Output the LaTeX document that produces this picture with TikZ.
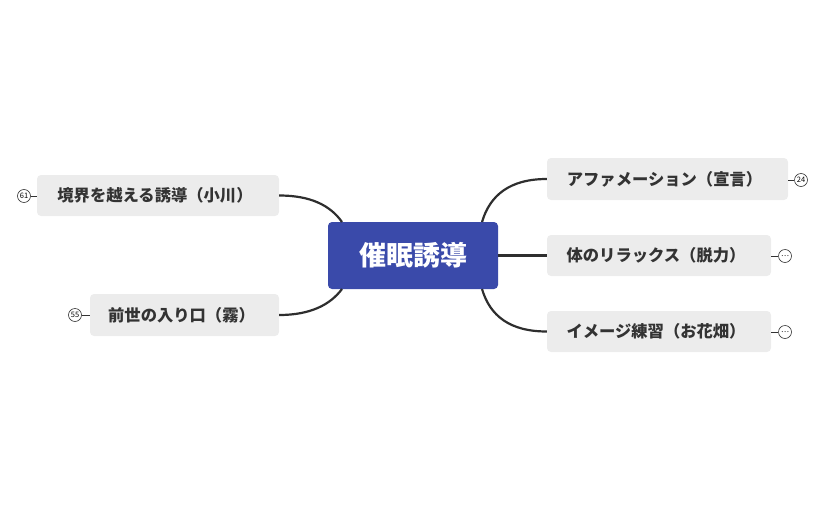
\documentclass[tikz,border=0pt]{standalone}
\usepackage{fontspec}
\setmainfont{Noto Sans CJK JP}
\begin{document}
\begin{tikzpicture}[x=1pt,y=-1pt,
  sub/.style={fill=gray!15,rounded corners=4pt,inner sep=0pt,font=\fontsize{16.3}{16}\selectfont\bfseries,text=black!80},
  conn/.style={line width=2.2pt,draw=black!82},
  badge/.style={circle,draw=black!80,line width=0.6pt,minimum size=13pt,inner sep=0pt,fill=white,font=\fontsize{7.5}{7}\selectfont},
  tick/.style={line width=1pt,draw=black!80}]
\useasboundingbox (0,0) rectangle (826,511);
\node[fill={rgb,255:red,58;green,74;blue,170},rounded corners=4pt,minimum width=170pt,minimum height=67pt,text=white,font=\fontsize{27}{27}\selectfont\bfseries] (c) at (413,255.5) {催眠誘導};
\node[sub,minimum width=241pt,minimum height=42pt] (a) at (667.5,179) {\hspace*{-6pt}アファメーション（宣言）};
\node[sub,minimum width=224pt,minimum height=41pt] (b) at (659,255.5) {\hspace*{-6pt}体のリラックス（脱力）};
\node[sub,minimum width=224pt,minimum height=41pt] (d) at (659,331.5) {\hspace*{-6pt}イメージ練習（お花畑）};
\node[sub,minimum width=242pt,minimum height=41pt] (e) at (158,195.5) {\hspace*{-6pt}境界を越える誘導（小川）};
\node[sub,minimum width=189pt,minimum height=42pt] (f) at (184.5,315) {\hspace*{-6pt}前世の入り口（霧）};
\coordinate (c1) at (482,222); \coordinate (c2) at (482,289);
\coordinate (c3) at (342,222); \coordinate (c4) at (342,289);
\draw[conn] (c1) .. controls (490,195) and (510,179) .. (a.west);
\draw[conn] (c.east) -- (b.west);
\draw[conn] (c2) .. controls (490,316) and (510,331.5) .. (d.west);
\draw[conn] (c3) .. controls (330,205) and (310,195.5) .. (e.east);
\draw[conn] (c4) .. controls (330,305) and (310,315) .. (f.east);
\node[badge] (ba) at (801,180) {24};
\node[badge] (bb) at (785,256) {…};
\node[badge] (bd) at (785,332) {…};
\node[badge] (be) at (24,196) {61};
\node[badge] (bf) at (75,315) {55};
\draw[tick] (a.east|-ba) -- (ba.west);
\draw[tick] (b.east|-bb) -- (bb.west);
\draw[tick] (d.east|-bd) -- (bd.west);
\draw[tick] (e.west|-be) -- (be.east);
\draw[tick] (f.west|-bf) -- (bf.east);
\end{tikzpicture}
\end{document}
